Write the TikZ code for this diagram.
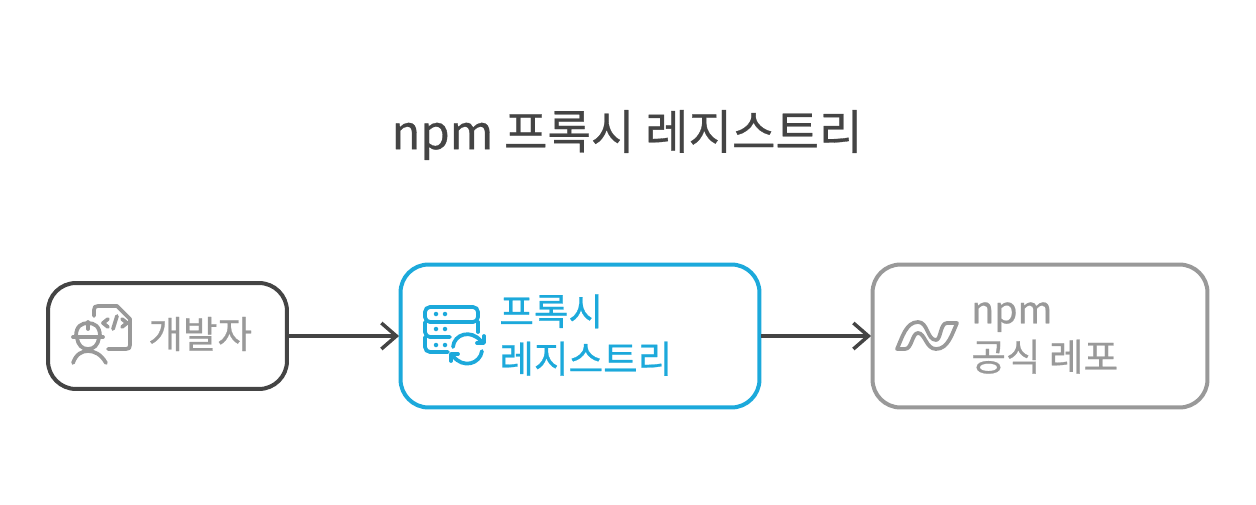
\documentclass[tikz,border=0pt]{standalone}
\usepackage{fontspec}
\setmainfont[FakeBold=0.6]{Noto Sans CJK KR}
\usetikzlibrary{arrows.meta,positioning}
\definecolor{inkdark}{HTML}{444444}
\definecolor{inkgrey}{HTML}{999999}
\definecolor{inkblue}{HTML}{1CA9DB}

\begin{document}
\begin{tikzpicture}[x=0.02cm, y=-0.02cm, >={Straight Barb[length=0.3cm,width=0.52cm,line width=0.07cm]},
      flat/.style={draw,rounded corners=0.56cm,line width=0.08cm,inner sep=0pt},
      label/.style={anchor=west,align=left,inner sep=0pt,font=\fontsize{21.4}{27}\selectfont},
      glyph/.style={line width=0.075cm,line cap=round,line join=round},
      flow/.style={draw=inkdark,line width=0.07cm,->,shorten >=-0.01cm}]
      \useasboundingbox (0,0) rectangle (1256,504);
      \node[inner sep=0pt,text=inkdark,font=\fontsize{26.9}{32}\selectfont] at (627,135) (title) {npm 프록시 레지스트리};
      \node[flat,draw=inkdark,minimum width=4.78cm,minimum height=2.12cm] at (167.5,336) (dev) {};
      \node[flat,draw=inkblue,minimum width=7.18cm,minimum height=2.86cm] at (580,336) (proxy) {};
      \node[flat,draw=inkgrey,minimum width=6.7cm,minimum height=2.86cm] at (1040,336) (repo) {};
      \node[label,text=inkgrey] at (148,334) (devtext) {개발자};
      \node[label,text=inkblue] at (499,335) (proxytext) {프록시\\레지스트리};
      \node[label,text=inkgrey] at (971,338) (repotext) {npm\\공식 레포};
      \draw[flow] (dev) -- (proxy);
      \draw[flow] (proxy) -- (repo);
      % developer icon
      \begin{scope}[glyph,draw=inkgrey]
        \draw (94,316) -- (94,310) .. controls (94,307) and (95,306) .. (98,306) -- (117,306) -- (130,319) -- (130,345) .. controls (130,348) and (129,349) .. (126,349) -- (108,349);
        \draw (108,319) -- (103,323) -- (108,327);
        \draw (122,319) -- (127,323) -- (122,327);
        \draw (117,316) -- (113,329);
        \draw (76,336) .. controls (76,326) and (82,323) .. (88,323) .. controls (94,323) and (100,326) .. (100,336);
        \draw (73,337) -- (103,337);
        \draw (77,338) .. controls (78,345) and (82,349) .. (88,349) .. controls (94,349) and (98,345) .. (99,338);
        \draw (73,363) .. controls (76,354) and (82,351) .. (88,351) .. controls (94,351) and (101,354) .. (106,363);
        \draw (88,322) -- (88,329);
      \end{scope}
      % registry icon
      \begin{scope}[glyph,draw=inkblue]
        \draw[rounded corners=0.1cm] (425,307) rectangle (478,322);
        \draw (478,322) -- (478,332);
        \draw[rounded corners=0.1cm] (450,337) -- (425,337) -- (425,322);
        \draw[rounded corners=0.1cm] (448,352) -- (425,352) -- (425,337);
        \foreach \rowy in {314,329,345} {
          \fill[inkblue] (436,\rowy) circle (0.045cm);
          \fill[inkblue] (445,\rowy) circle (0.045cm);
        }
        \draw (453,347) .. controls (454,334) and (471,329) .. (481,341);
        \draw (482,351) .. controls (480,364) and (463,369) .. (453,356);
        \draw (484,336) -- (484,343) -- (477,343);
        \draw (451,361) -- (451,354) -- (458,354);
      \end{scope}
      % npm icon
      \draw[glyph,draw=inkgrey] (897,349) .. controls (902,338) and (906,322) .. (918,322) .. controls (928,322) and (927,340) .. (936,340) .. controls (941,340) and (940,323) .. (947,323) -- (957,323) .. controls (952,334) and (948,349) .. (936,349) .. controls (926,349) and (925,333) .. (918,333) .. controls (912,333) and (912,349) .. (905,349) -- cycle;
    \end{tikzpicture}
\end{document}
